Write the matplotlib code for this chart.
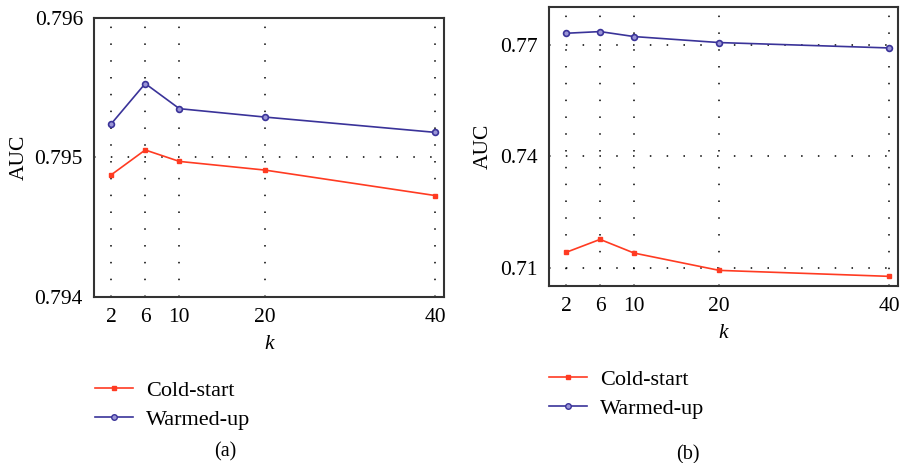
import matplotlib
matplotlib.use("Agg")
import matplotlib.pyplot as plt
from matplotlib.lines import Line2D

plt.rcParams['font.family'] = ['Liberation Serif', 'DejaVu Serif']
plt.rcParams['font.size'] = 14

k_values = [2, 6, 10, 20, 40]
x_ticks = [2, 6, 10, 20, 40]

# Panel (a)
a_cold = [0.794875, 0.795054, 0.794972, 0.794910, 0.794727]
a_warm = [0.795240, 0.795530, 0.795350, 0.795290, 0.795180]
a_yticks = [0.794, 0.795, 0.796]
a_yticklabels = ["0.794", "0.795", "0.796"]

# Panel (b)
b_cold = [0.71414, 0.71763, 0.71395, 0.70930, 0.70769]
b_warm = [0.77304, 0.77349, 0.77215, 0.77054, 0.76909]
b_yticks = [0.71, 0.74, 0.77]
b_yticklabels = ["0.71", "0.74", "0.77"]

series_names = ["Cold-start", "Warmed-up"]
panel_labels = ["(a)", "(b)"]

RED = "#ff3b22"
BLUE = "#3a3399"
W, H = 900, 463

fig = plt.figure(figsize=(9, 4.63), dpi=100)


def px_axes(x0, y0, x1, y1):
    return fig.add_axes([x0 / W, 1 - y1 / H, (x1 - x0) / W, (y1 - y0) / H])


def style(ax, cold, warm, yticks, ylabels, ylim):
    ax.plot(k_values, cold, color=RED, lw=1.2, marker='s', ms=2.2,
            mfc=RED, mec=RED, zorder=3)
    ax.plot(k_values, warm, color=BLUE, lw=1.2, marker='o', ms=4.2,
            mfc="#9a95d6", mec=BLUE, mew=1.2, zorder=3)
    ax.set_xlim(0, 41)
    ax.set_ylim(*ylim)
    ax.set_xticks(x_ticks)
    ax.set_xticklabels([str(v) for v in x_ticks])
    ax.set_yticks(yticks)
    ax.set_yticklabels(ylabels)
    ax.tick_params(length=0, labelsize=15.5, pad=8)
    ax.grid(True, color='black', linestyle=(0, (1, 10)), lw=1.1)
    for s in ax.spines.values():
        s.set_color('#333333')
        s.set_linewidth(1.5)
    ax.set_ylabel("AUC", fontsize=15.5)
    ax.set_xlabel("k", fontsize=15.5, style='italic', labelpad=6)


ax1 = px_axes(94, 18, 444, 297)
style(ax1, a_cold, a_warm, a_yticks, a_yticklabels, (0.794, 0.796))
ax1.yaxis.set_label_coords(-0.185, 0.5)

ax2 = px_axes(549, 7, 898, 286)
style(ax2, b_cold, b_warm, b_yticks, b_yticklabels, (0.7051, 0.7801))
ax2.yaxis.set_label_coords(-0.162, 0.5)

handles = [Line2D([], [], color=RED, lw=1.2, marker='s', ms=2.2, mfc=RED, mec=RED),
           Line2D([], [], color=BLUE, lw=1.2, marker='o', ms=4.0, mfc="#9a95d6", mec=BLUE)]

for (x0, y0) in [(95, 380), (549, 369)]:
    fig.legend(handles, series_names, loc='upper left',
               bbox_to_anchor=(x0 / W, 1 - y0 / H), frameon=False,
               borderpad=0, borderaxespad=0, handlelength=1.7,
               handletextpad=0.6, labelspacing=0.38, fontsize=16)

fig.text(225 / W, 1 - 452 / H, panel_labels[0], ha='center', va='center', fontsize=14.5)
fig.text(688 / W, 1 - 455 / H, panel_labels[1], ha='center', va='center', fontsize=14.5)

fig.savefig("out.png", dpi=100)
